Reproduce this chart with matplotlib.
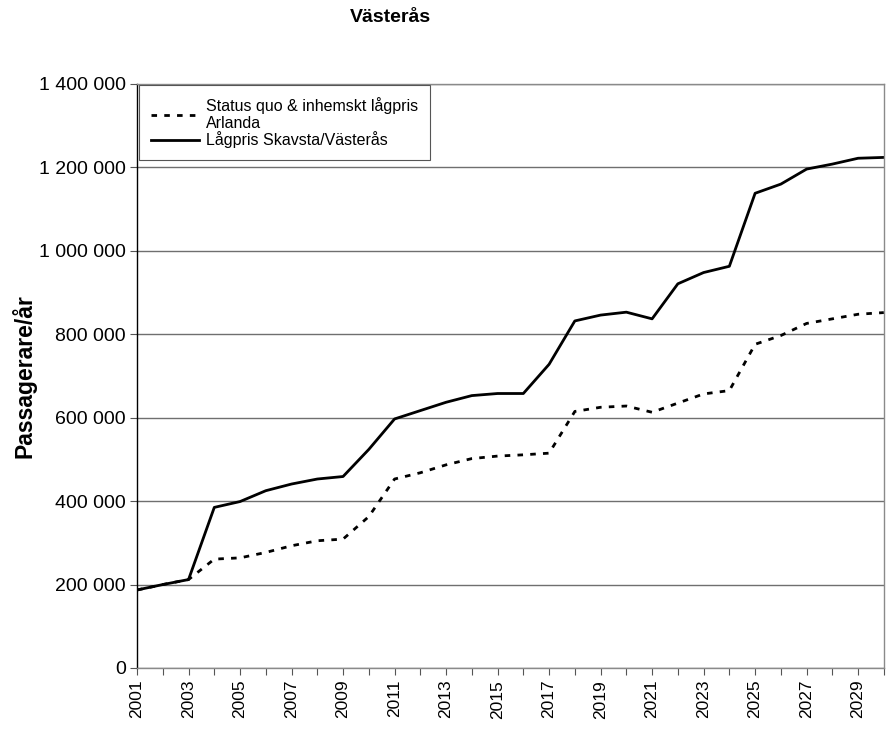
import matplotlib.pyplot as plt

plt.rcParams['font.family'] = ['Liberation Sans', 'DejaVu Sans']

# Data
years = list(range(2001, 2031))
status_quo = [187000, 200000, 212000, 261000, 264000, 277000, 293000, 305000, 309000, 363000,
              453000, 468000, 487000, 502000, 508000, 511000, 515000, 615000, 625000, 628000,
              613000, 635000, 657000, 665000, 776000, 797000, 826000, 837000, 848000, 852000]
lagpris = [187000, 200000, 212000, 385000, 399000, 425000, 441000, 453000, 459000, 524000,
           597000, 617000, 637000, 653000, 658000, 658000, 728000, 832000, 846000, 853000,
           837000, 921000, 948000, 963000, 1138000, 1160000, 1196000, 1208000, 1222000, 1224000]
y_ticks = [0, 200000, 400000, 600000, 800000, 1000000, 1200000, 1400000]
y_labels = ['0', '200 000', '400 000', '600 000', '800 000', '1 000 000', '1 200 000', '1 400 000']
x_labels = [str(y) if (y - 2001) % 2 == 0 else '' for y in years]

fig = plt.figure(figsize=(8.91, 7.31), dpi=100)
ax = fig.add_axes([0.1538, 0.0862, 0.8382, 0.7989])

ax.plot(years, status_quo, color='black', linewidth=2.0, linestyle=(0, (2, 2.6)),
        label='Status quo & inhemskt lågpris\nArlanda')
ax.plot(years, lagpris, color='black', linewidth=2.0, label='Lågpris Skavsta/Västerås')

ax.set_xlim(2001, 2030)
ax.set_ylim(0, 1400000)
ax.set_yticks(y_ticks)
ax.set_yticklabels(y_labels, fontsize=14)
ax.set_xticks(years)
ax.set_xticklabels(x_labels, rotation=90, fontsize=12.5)
ax.tick_params(axis='both', direction='out', length=5, width=0.8, color='#555555')
ax.tick_params(axis='y', pad=3)

ax.grid(True, axis='y', color='#6f6f6f', linewidth=1.0)
ax.set_axisbelow(True)
for side in ['top', 'right', 'bottom']:
    ax.spines[side].set_color('#8a8a8a')
    ax.spines[side].set_linewidth(1.0)
ax.spines['left'].set_color('black')
ax.spines['left'].set_linewidth(1.0)

fig.text(24 / 891, 1 - 376 / 731, 'Passagerare/år', rotation=90, ha='center', va='center',
         fontsize=16.5, fontweight='bold')
fig.text(390 / 891, 1 - 18 / 731, 'Västerås', ha='center', va='center',
         fontsize=14, fontweight='bold')

leg = ax.legend(loc='upper left', bbox_to_anchor=(0.003, 0.998), fontsize=11.5,
                frameon=True, fancybox=False, framealpha=1, edgecolor='#555555',
                handlelength=3.0, labelspacing=0.0, borderpad=0.75,
                handletextpad=0.4, borderaxespad=0)
leg.get_frame().set_linewidth(0.8)

fig.savefig('out.png', dpi=100)
